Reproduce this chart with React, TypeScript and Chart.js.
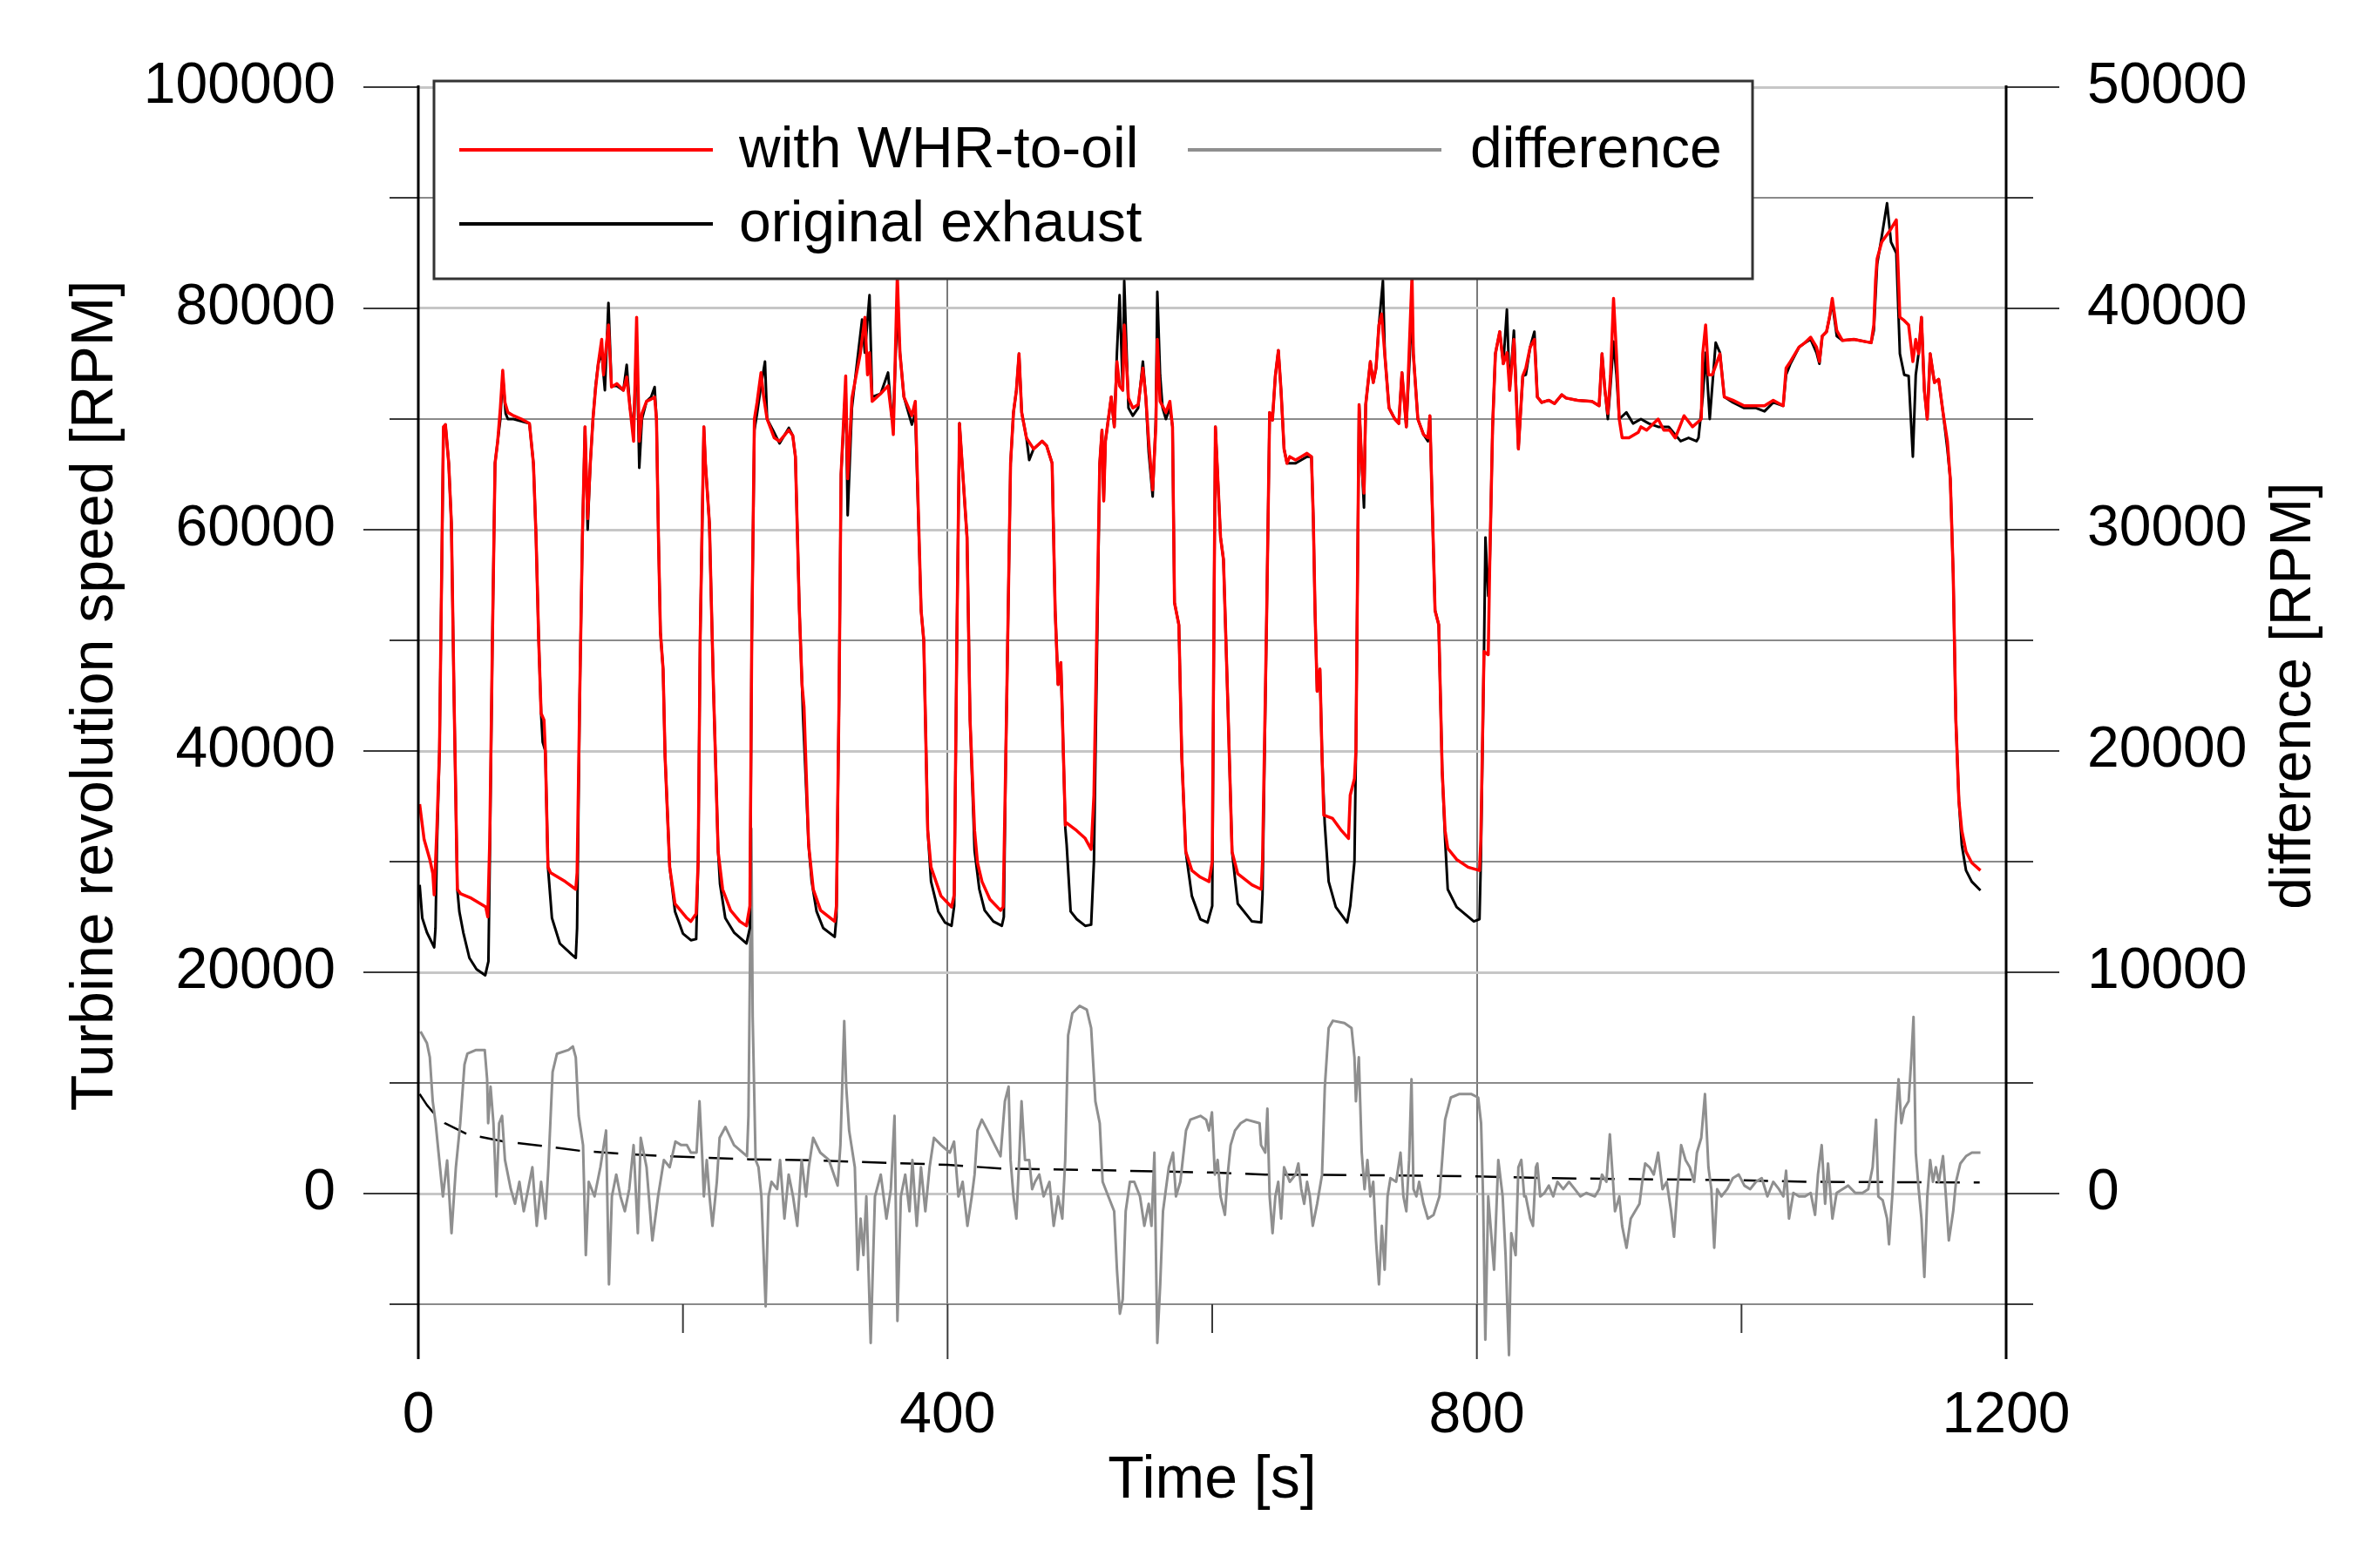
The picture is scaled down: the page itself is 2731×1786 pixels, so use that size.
import React, { useEffect, useRef } from 'react';
import { Chart, registerables } from 'chart.js';

Chart.register(...registerables);

// ---------- data ----------
const redTime = [1, 4.4, 8.7, 11, 12, 14, 16, 19, 20.5, 23, 25, 27, 29.5, 32, 40, 51, 52.5, 54, 56, 58, 60, 62, 63.8, 65.5, 67.7, 72, 78, 84, 87, 89, 91, 92.8, 95, 96, 98, 100, 111, 119, 120, 122, 124, 126, 128, 130, 132, 134, 136, 138.6, 140, 142, 143.7, 146, 150, 155, 157.5, 160, 162.7, 165, 167, 169, 172.5, 176, 178.6, 180, 181.5, 183, 185, 186.5, 190, 194, 203, 206, 210, 211.5, 213, 215.8, 217, 220, 223, 226.6, 230, 236, 243, 248, 250.6, 252, 254, 256, 259, 261, 263.6, 269, 273, 280, 283, 285, 288, 290, 291.5, 295, 298.5, 304, 314.7, 316, 318, 319.5, 323, 324.5, 327.7, 331, 334, 337.5, 339.5, 341, 343, 349.5, 355, 358, 359, 362, 364, 367, 373, 375.6, 380, 382, 385, 387.5, 395, 403, 405, 407, 409, 414.7, 417, 420.4, 422.6, 426, 432, 440, 442, 444, 447.6, 449.8, 452, 454, 456, 459.6, 465, 471.5, 474.8, 479, 481.3, 483.5, 485.6, 486.7, 489, 490, 497.6, 504, 508.5, 510.6, 515, 516.7, 518, 519.3, 523.7, 526, 528, 530, 532.4, 533.5, 536.7, 540, 544, 547.6, 549.8, 552, 555, 557.4, 558.5, 560.6, 565, 568, 570, 571.5, 574.8, 577, 580, 584.6, 591, 597.6, 600, 601.5, 602.4, 606.3, 608.5, 611.7, 615, 619.3, 630, 637, 638, 641.2, 643.4, 645.5, 647.7, 650, 652, 654.3, 656.5, 658.6, 663, 667.3, 671.6, 675, 676.4, 677.7, 679.3, 681.4, 683, 684.3, 691, 697.7, 703, 704.3, 707.5, 708.6, 711, 713, 714.7, 716, 719.5, 721.7, 723.8, 726, 728, 730.4, 733.6, 738, 741, 743.4, 746.7, 751, 752, 755.4, 759.7, 763, 764.5, 766.2, 768.4, 771.2, 773.8, 776, 778, 784.7, 793.4, 802, 803, 805.4, 808.6, 809.7, 811.9, 814, 817.3, 820, 822.8, 824.8, 828, 831.4, 834.7, 837, 840.3, 843.5, 845.7, 849, 854.4, 858.7, 864.2, 867.4, 876, 887, 892.4, 894.6, 896.8, 899, 901, 903.3, 905.5, 907.6, 909.8, 915, 922, 924, 928.3, 937, 941.3, 945.7, 950, 956.6, 963, 969.6, 970.7, 972.9, 975, 978, 983.7, 987, 993.5, 1002, 1011, 1017.4, 1024, 1031.5, 1033.7, 1037, 1043.5, 1048, 1052.3, 1056.7, 1058.9, 1061, 1064.3, 1066.5, 1068.6, 1072, 1076.3, 1085, 1093.6, 1098, 1100, 1101.3, 1102.5, 1106, 1112, 1117, 1118.7, 1119.7, 1123, 1126.3, 1129.5, 1131.7, 1133.9, 1136, 1138.2, 1140.4, 1142.6, 1145.8, 1149, 1152.3, 1155.6, 1157.8, 1160, 1162, 1164.3, 1166.5, 1169.7, 1174, 1180.6];
const redRpm = [35200, 32000, 30200, 28900, 27000, 32800, 40000, 69300, 69500, 66000, 60600, 45000, 27500, 27100, 26700, 25900, 25000, 32000, 50000, 66000, 68000, 71000, 74400, 71500, 70600, 70300, 70000, 69600, 66000, 59300, 50000, 43400, 42800, 40000, 29500, 29000, 28200, 27500, 29000, 45000, 59300, 69300, 61000, 66000, 70000, 72800, 75000, 77200, 74000, 76500, 78500, 72900, 73200, 72600, 73800, 71000, 68000, 79200, 68000, 70500, 71600, 71800, 72000, 70000, 59300, 50700, 47400, 39500, 29500, 26200, 24900, 24600, 25300, 30000, 50000, 69300, 66000, 60600, 46000, 30900, 27500, 25600, 24600, 24200, 26000, 50000, 70000, 71500, 74200, 72000, 70000, 68300, 68000, 69000, 68500, 66600, 52700, 46000, 44000, 31500, 27500, 25600, 24600, 26000, 45000, 65000, 73900, 64600, 71900, 74000, 75900, 79200, 74000, 76000, 71600, 72300, 73000, 70000, 68600, 83000, 76000, 72000, 70300, 71600, 52700, 50000, 32800, 29500, 26900, 25900, 27000, 50000, 69600, 59300, 42800, 32800, 29900, 28200, 26600, 25600, 25900, 39500, 66000, 70600, 72600, 75900, 70600, 68300, 67300, 68000, 67600, 66000, 52700, 46000, 48000, 43400, 33300, 33500, 32800, 32100, 31100, 36000, 66000, 69000, 62600, 68000, 72000, 69300, 75200, 73000, 72600, 78500, 71900, 71000, 71300, 74600, 72000, 68000, 63600, 69300, 77200, 71600, 70600, 71600, 69300, 53400, 51400, 39500, 30900, 29200, 28600, 28200, 30000, 55000, 69300, 59300, 57300, 44700, 30900, 28900, 27900, 27500, 30000, 52700, 70600, 69900, 73900, 76200, 72600, 67300, 66000, 66600, 66300, 66600, 66900, 66600, 61000, 52700, 45400, 47400, 39500, 34200, 33900, 32800, 32100, 36000, 37500, 40000, 71300, 66000, 63300, 71300, 75200, 73300, 74600, 78500, 79500, 75900, 71000, 70000, 69600, 74200, 69300, 83000, 75900, 70000, 68600, 68300, 70300, 62600, 52700, 51400, 38200, 32800, 31200, 30200, 29500, 29200, 32000, 49000, 48700, 56700, 69300, 75900, 77900, 75000, 76000, 72600, 77200, 67300, 73900, 74600, 76500, 77200, 72000, 71500, 71700, 71400, 72200, 71900, 71700, 71600, 71200, 75900, 72600, 70500, 73900, 80900, 75900, 70000, 68300, 68300, 68800, 69300, 69000, 70000, 69000, 69000, 68300, 70300, 69300, 70000, 75900, 78500, 74000, 74000, 75900, 72000, 71700, 71200, 71200, 71200, 71700, 71200, 74600, 75200, 76500, 76900, 77400, 76500, 75200, 77500, 77900, 79200, 80900, 78000, 77100, 77200, 77000, 76900, 78500, 82500, 84500, 86000, 87000, 88000, 82500, 79200, 78900, 78500, 75200, 77200, 75900, 79200, 72600, 70000, 75900, 73300, 73600, 70600, 68000, 64600, 56000, 42800, 35500, 32800, 30900, 29900, 29200];

const blackTime = [1, 3, 6.5, 12, 13, 14, 16, 19, 20.5, 23, 25, 27, 29.5, 31, 34, 38.6, 44, 50.6, 53, 54, 56, 58, 60, 62, 63.8, 66, 67.7, 72, 78, 84, 87, 89, 91, 92.8, 94, 96, 98, 101, 107, 116, 119, 120, 122, 124, 126, 128, 130, 132, 134, 136, 138.6, 141, 143.7, 146, 150, 155, 157.5, 160, 162.7, 165, 167, 169, 172.5, 176, 178.6, 180, 181.5, 183, 185, 186.5, 190, 194, 200, 206, 210, 211.5, 213, 215.8, 217, 220, 223, 226.6, 228, 232, 238.6, 248, 250.6, 252, 254, 256, 259, 262, 263.6, 268, 273, 280, 283, 285, 288, 290, 290.8, 295, 297.3, 301, 306, 314.7, 316, 318, 319.5, 323, 324.5, 327.7, 331, 335.4, 337.5, 341, 343, 349.5, 355, 358, 359, 362, 364, 367, 373, 375.6, 380, 382, 385, 387.5, 393, 398, 403, 405, 407, 409, 414.7, 417, 420.4, 424, 428, 434.6, 441, 442.5, 444, 447.6, 449.8, 452, 454, 456, 459.6, 461.7, 465, 471.5, 474.8, 479, 481.3, 483.5, 485.6, 486.7, 489, 490, 493, 497.6, 504, 508.5, 510.6, 515, 516.7, 518, 519.3, 523.7, 526, 528, 530, 532.4, 533.5, 536.7, 540, 544, 547.6, 549.8, 552, 555, 557.4, 558.5, 560.6, 562.5, 565, 568, 570, 571.5, 574.8, 577, 580, 584.6, 591, 596.5, 600, 601.5, 602.4, 606.3, 608.5, 611.7, 615, 619.3, 630, 637, 638, 641.2, 643.4, 645.5, 647.7, 650, 652, 654.3, 656.5, 658.6, 663, 667.3, 671.6, 675, 676.4, 677.7, 679.3, 681.4, 683, 685, 688, 693.4, 702, 704.3, 707.5, 708.6, 711, 713, 714.7, 716, 719.5, 721.7, 723.8, 726, 729, 730.4, 733.6, 738, 741, 743.4, 746.7, 751, 752, 755.4, 759.7, 763, 764.5, 766.2, 768.4, 771.2, 773.8, 776, 778, 784.7, 797.7, 802, 803, 805.4, 806.5, 808.6, 809.7, 811.9, 814, 817.3, 820, 822.7, 824.8, 828, 831.4, 834.7, 837, 840.3, 843.5, 845.7, 849, 854.4, 858.7, 864.2, 867.4, 876, 887, 892.4, 894.6, 896.8, 899, 901, 903.3, 905.5, 907.6, 913, 918, 924, 930, 937, 945, 954, 960, 966, 967.5, 970.7, 973, 975, 976, 980.5, 983.7, 987, 993.5, 1002, 1011, 1017.4, 1024, 1031.5, 1033.7, 1037, 1043.5, 1048, 1052.3, 1056.7, 1058.9, 1061, 1064.3, 1066.5, 1068.6, 1072, 1076.3, 1085, 1093.6, 1098, 1100, 1102.5, 1106, 1110, 1113, 1117, 1119.7, 1123, 1126.3, 1129.5, 1131.7, 1133.9, 1136, 1138.2, 1140.4, 1142.6, 1145.8, 1149, 1152.3, 1155.6, 1157.8, 1160, 1162, 1164.3, 1166.5, 1169.7, 1174, 1180.6];
const blackRpm = [27900, 24900, 23600, 22250, 24000, 31000, 40000, 69000, 69500, 66000, 60600, 45000, 27500, 25500, 23600, 21300, 20270, 19730, 21000, 30000, 50000, 66000, 68000, 70000, 74000, 70500, 70000, 70000, 69800, 69600, 66000, 59300, 50000, 43400, 40800, 40000, 29500, 24900, 22600, 21600, 21300, 24000, 45000, 59300, 69300, 60000, 66000, 70000, 73000, 75000, 76000, 72600, 80500, 73000, 73000, 72600, 74900, 71000, 69000, 77000, 65600, 70000, 71600, 72000, 72900, 70000, 59300, 50700, 47400, 39500, 29500, 25500, 23500, 22900, 23000, 30000, 50000, 69300, 66000, 60600, 46000, 30900, 28000, 24900, 23600, 22600, 24000, 50000, 69000, 70500, 73000, 75200, 70000, 69000, 67800, 69200, 68500, 66600, 52700, 46000, 43000, 31500, 28200, 25500, 24000, 23200, 25000, 45000, 65000, 73000, 61300, 71000, 74500, 79000, 76000, 81200, 72000, 72300, 74200, 70000, 70000, 80000, 76000, 72000, 69500, 70500, 52700, 50000, 32800, 28200, 25500, 24500, 24200, 26000, 50000, 69600, 59300, 42800, 31000, 27500, 25600, 24600, 24200, 25000, 39500, 66000, 70600, 72600, 75900, 70600, 68300, 66300, 67300, 68000, 67600, 66000, 52700, 46000, 48000, 43400, 33000, 31500, 25500, 24800, 24200, 24300, 30000, 66000, 69000, 62600, 68000, 72000, 69300, 76000, 81200, 72600, 82500, 71000, 70300, 71000, 75200, 72000, 67000, 63000, 70000, 81500, 74000, 71000, 70000, 71000, 69300, 53400, 51400, 39500, 30900, 26900, 24800, 24500, 26000, 55000, 69300, 59300, 57300, 44700, 30900, 26200, 24600, 24500, 27000, 52700, 70600, 69900, 73900, 76200, 72600, 67300, 66000, 66000, 66000, 66300, 66600, 66600, 61000, 52700, 45400, 47400, 39500, 33500, 28200, 25900, 24500, 26000, 30000, 40000, 71300, 66000, 62000, 71300, 75200, 73300, 74600, 78500, 82500, 75900, 71000, 70000, 69600, 74200, 69300, 80000, 75900, 70000, 68600, 68000, 70300, 62600, 52700, 51400, 38200, 32000, 27500, 25900, 24600, 24800, 30000, 49000, 59300, 54000, 56700, 69300, 75900, 77900, 75000, 79900, 72600, 78000, 67300, 73900, 74000, 76500, 77900, 72000, 71500, 71700, 71400, 72200, 71900, 71700, 71600, 71200, 75900, 72600, 70000, 73000, 77000, 74000, 70000, 70600, 69600, 70000, 69600, 69300, 69300, 68000, 68300, 68000, 68300, 72000, 76000, 72000, 70000, 76900, 76000, 72000, 71500, 71000, 71000, 70700, 71500, 71200, 74000, 75000, 76500, 76900, 77200, 76000, 75000, 77500, 77900, 79200, 80500, 77500, 77100, 77200, 77000, 76900, 78000, 84000, 86500, 89500, 86000, 85000, 75900, 74000, 73900, 66600, 74000, 76000, 79200, 72600, 70000, 75900, 73300, 73600, 70600, 67300, 64600, 56000, 42800, 35500, 31500, 29200, 28200, 27400];

const diffTime = [1.7, 6.5, 8.7, 10.9, 13.1, 15.3, 18.6, 21.8, 25.1, 28.4, 31.7, 34.9, 37.1, 43.7, 50.2, 52, 52.8, 54.6, 56.8, 59, 61.1, 63.3, 65.5, 69.9, 73.1, 76.4, 79.7, 83, 86.2, 89.5, 92.8, 96.1, 98.3, 101.5, 104.8, 113.5, 116.8, 119, 121.2, 124.5, 126.6, 128.8, 133.2, 137.6, 141.9, 144.1, 146.3, 149.6, 152.8, 156.1, 159.4, 162.7, 165.9, 168.1, 172.5, 176.9, 181.2, 185.6, 190, 194.3, 198.7, 203, 206, 210.3, 212.5, 214.7, 215.8, 218, 220.1, 222.3, 225.6, 227.7, 232.1, 238.6, 248.4, 249.5, 251.7, 252.7, 254.9, 257.1, 259.3, 262.5, 264.7, 266.9, 271.2, 273.4, 276.7, 279.9, 283.2, 286.4, 289.7, 293, 295.1, 298.4, 303.8, 310.3, 316.9, 319, 321.9, 323.4, 325.6, 329.9, 332.1, 334.3, 336.4, 338.6, 341.9, 345.1, 349.5, 353.8, 357.1, 359.9, 362.1, 364.7, 368, 371.2, 373.4, 376.7, 379.9, 383.2, 386.4, 389.7, 395.1, 401.7, 404.9, 408.2, 411.4, 415, 418.3, 420.4, 422.6, 425.9, 430.2, 435.7, 440, 443.3, 446.1, 447.6, 449.8, 452, 454.1, 455.9, 458.5, 461.7, 463.9, 466.1, 469.3, 472.6, 477, 480.2, 483.5, 486.7, 488.9, 491.1, 494.3, 499.8, 505.2, 508.5, 511.7, 515, 517.2, 521.5, 525.9, 528, 530.2, 532.4, 534.6, 537.8, 541.1, 545.4, 548.7, 552, 554.1, 556.3, 558.5, 560.7, 562.8, 565, 567.2, 570.4, 572.6, 575.9, 580.2, 583.5, 591.1, 595.4, 597.6, 599.8, 602, 604.1, 606.3, 609.6, 611.7, 613.9, 617.2, 621.5, 626, 635.8, 636.9, 640.1, 641.7, 643.4, 645.6, 647.7, 649.9, 652.1, 654.3, 658.6, 663, 665.1, 667.3, 669.5, 671.7, 673.8, 676, 679.3, 683, 685.1, 688, 691.2, 699.9, 705.3, 707.5, 708.6, 710.8, 713, 715.1, 717.3, 719.5, 721.7, 723.8, 726, 728.2, 730.3, 732.5, 734.7, 739, 742.3, 744.5, 746.7, 748.8, 750.6, 752.1, 754.3, 756.4, 759.7, 763, 767.3, 771.7, 773.8, 776, 780.3, 786.9, 795.6, 801, 803.2, 804.7, 806.4, 808.6, 810.8, 813, 816.2, 819.5, 821.7, 824.3, 826, 829.3, 831.4, 833.6, 835.8, 837, 840.3, 842.4, 844.6, 845.7, 847.9, 851.1, 854.4, 857.7, 860.9, 865.3, 869.6, 874, 878.3, 882.7, 889.2, 892.4, 894.6, 897.9, 900.5, 902.2, 904.4, 907.7, 909.8, 913.1, 916.3, 919.6, 922.9, 925, 927.2, 930.5, 933.7, 937, 940.3, 943.5, 946.8, 949, 951.1, 954.4, 957.7, 960.9, 964.2, 966.3, 969.6, 972.4, 975, 977.2, 979.4, 981.6, 984.8, 989.2, 993.5, 997.9, 1002.2, 1006.6, 1010.9, 1015.3, 1019.6, 1024, 1028.3, 1031.6, 1033.7, 1035.9, 1039.2, 1043.5, 1048, 1052.3, 1055.6, 1057.8, 1060.6, 1063.2, 1065.4, 1068.7, 1071.9, 1076.3, 1080.6, 1086, 1091.5, 1095.8, 1099.1, 1101.7, 1103.4, 1106.7, 1110, 1111.5, 1114.3, 1116.5, 1118.7, 1120.8, 1123, 1126.3, 1128.4, 1130, 1131.7, 1133.9, 1136, 1138.2, 1140.4, 1142.6, 1144.7, 1146.9, 1149.1, 1152.3, 1154.5, 1156.7, 1160, 1162.1, 1165.4, 1169.7, 1174.1, 1180.6];
const diffRpm = [7320, 6800, 6160, 4170, 3180, 1850, -130, 1500, -1790, 1190, 3180, 5830, 6320, 6490, 6490, 5170, 3180, 4830, 3180, -130, 3180, 3510, 1520, 200, -460, 530, -800, 200, 1190, -1460, 530, -1130, 1190, 5500, 6320, 6490, 6650, 6160, 3510, 2190, -2780, 530, -130, 1190, 2850, -4100, -130, 860, -130, -800, 200, 2190, -1790, 2520, 1190, -2120, -130, 1520, 1190, 2350, 2190, 2190, 1850, 1850, 4170, 1520, -130, 1520, -130, -1460, 530, 2520, 3010, 2190, 1690, 3510, 16500, 8000, 1520, 1190, -130, -5100, -130, 530, 200, 1520, -1130, 860, -130, -1460, 1520, -130, 1190, 2520, 1850, 1520, 360, 2190, 7800, 4830, 2850, 1190, -3440, -1130, -2780, -130, -6750, -130, 860, -1130, 200, 3510, -5760, -130, 860, -800, 1520, -1460, 1190, -800, 1190, 2520, 2190, 1850, 2350, -130, 530, -1460, -130, 860, 2850, 3340, 2850, 2190, 1690, 4170, 4830, 1520, -130, -1130, 1520, 4170, 1520, 1520, 200, 530, 860, -130, 530, -1460, -130, -1130, 1520, 7150, 8150, 8480, 8310, 7480, 4170, 3180, 530, -130, -800, -3440, -5430, -4770, -800, 530, 530, -130, -1460, -460, -1460, 1850, -6750, -4100, -800, 200, 1190, 1850, -130, 530, 2850, 3340, 3510, 3340, 2850, 3670, 860, 1520, -130, -960, 860, 2190, 2850, 3180, 3340, 3180, 2190, 1850, 3840, -130, -1790, -130, 530, -1130, 1190, 530, 860, 1360, 200, -460, 530, -130, -1460, -460, 860, 4830, 7480, 7810, 7710, 7480, 6160, 4170, 6160, 1850, 200, 1520, -130, 530, -2120, -4100, -1460, -3440, -130, 700, 530, 1850, -130, -800, 1520, 5170, 200, -130, 530, -460, -1130, -960, -130, 1520, 3340, 4340, 4500, 4500, 4340, 3180, -130, -6600, -130, -1790, -3440, 1520, -130, -2780, -7300, -1790, -2780, 1190, 1520, -130, -130, -1130, -1460, 1190, 1360, -130, 30, 360, -130, 530, 200, 530, 200, -130, 30, -130, 200, 860, 530, 2680, 1190, -800, -130, -1460, -2450, -1130, -800, -460, 530, 1360, 1190, 860, 1850, 200, 530, -800, -1950, -130, 2190, 1520, 1190, 530, 1850, 2520, 4500, 1190, 200, -2450, 200, -130, 200, 700, 860, 360, 200, 530, 700, -130, 530, 200, -130, 1030, -1130, 30, -130, -130, 30, -960, 860, 2190, -460, 1360, -1130, 30, 200, 360, 30, 30, 200, 1190, 3340, -130, -300, -1130, -2290, 200, 3180, 5170, 3180, 3840, 4170, 6160, 7980, 1850, 200, -1130, -3770, -130, 1520, 530, 1190, 530, 1690, -130, -2120, -800, 530, 1360, 1690, 1850, 1850];

const trendTime = [1, 6.5, 11, 20, 37, 65, 98, 124, 157, 186, 250, 300, 400, 440, 520, 600, 640, 720, 800, 850, 1000, 1050, 1180];
const trendRpm = [4500, 4000, 3680, 3180, 2680, 2350, 2120, 1920, 1790, 1690, 1550, 1500, 1300, 1130, 1050, 950, 860, 830, 780, 700, 600, 530, 500];

const xTickLabels = ['0', '400', '800', '1200'];
const yTickLabels = ['0', '20000', '40000', '60000', '80000', '100000'];
const y1TickLabels = ['0', '10000', '20000', '30000', '40000', '50000'];

const seriesLabels = ['with WHR-to-oil', 'original exhaust', 'difference'];
const axisTitles = { x: 'Time [s]', y: 'Turbine revolution speed [RPM]', y1: 'difference [RPM]' };

// ---------- styling ----------
const W = 2731;
const H = 1786;
const FONT = '"Liberation Sans", Arial, Helvetica, sans-serif';
const FS = 66;
const RED = '#ff0000';
const BLACK = '#000000';
const GRAY = '#8f8f8f';

const zip = (t: number[], v: number[]) => t.map((x, i) => ({ x, y: v[i] }));

const decorPlugin = {
  id: 'decor',
  afterDatasetsDraw(chart: any) {
    const { ctx, chartArea, scales } = chart;
    const { left, right, top, bottom } = chartArea;
    ctx.save();

    // legend box
    const lx = left + 18;
    const ly = top - 7;
    const lw = 1513;
    const lh = 227;
    ctx.fillStyle = '#ffffff';
    ctx.fillRect(lx, ly, lw, lh);
    ctx.strokeStyle = '#333333';
    ctx.lineWidth = 3;
    ctx.strokeRect(lx, ly, lw, lh);
    const ds = chart.data.datasets;
    const entries = [
      { i: 0, lineX: lx + 29, textX: lx + 350, y: ly + 79 },
      { i: 2, lineX: lx + 865, textX: lx + 1189, y: ly + 79 },
      { i: 1, lineX: lx + 29, textX: lx + 350, y: ly + 164 },
    ];
    ctx.font = `${FS}px ${FONT}`;
    ctx.textBaseline = 'middle';
    ctx.textAlign = 'left';
    for (const e of entries) {
      ctx.strokeStyle = ds[e.i].borderColor;
      ctx.lineWidth = 4;
      ctx.beginPath();
      ctx.moveTo(e.lineX, e.y);
      ctx.lineTo(e.lineX + 291, e.y);
      ctx.stroke();
      ctx.fillStyle = '#000';
      ctx.fillText(ds[e.i].label, e.textX, e.y + 2);
    }

    // tick marks
    ctx.strokeStyle = '#3a3a3a';
    ctx.lineWidth = 2;
    const yS = scales.y;
    yS.ticks.forEach((t: any) => {
      const p = yS.getPixelForValue(t.value);
      const len = t.value % 20000 === 0 ? 63 : 33;
      ctx.beginPath();
      ctx.moveTo(left - len, p);
      ctx.lineTo(left, p);
      ctx.stroke();
    });
    const y1S = scales.y1;
    y1S.ticks.forEach((t: any) => {
      const p = y1S.getPixelForValue(t.value);
      const len = t.value % 10000 === 0 ? 61 : 31;
      ctx.beginPath();
      ctx.moveTo(right, p);
      ctx.lineTo(right + len, p);
      ctx.stroke();
    });
    const xS = scales.x;
    xS.ticks.forEach((t: any) => {
      const p = xS.getPixelForValue(t.value);
      const len = t.value % 400 === 0 ? 63 : 33;
      ctx.beginPath();
      ctx.moveTo(p, bottom);
      ctx.lineTo(p, bottom + len);
      ctx.stroke();
    });

    // axis lines
    ctx.strokeStyle = '#000';
    ctx.lineWidth = 3;
    ctx.beginPath();
    ctx.moveTo(left, top - 2);
    ctx.lineTo(left, bottom + 63);
    ctx.moveTo(right, top - 2);
    ctx.lineTo(right, bottom + 63);
    ctx.stroke();

    // right axis title (reads bottom to top)
    ctx.save();
    ctx.translate(right + 331, (top + bottom) / 2);
    ctx.rotate(-Math.PI / 2);
    ctx.textAlign = 'center';
    ctx.textBaseline = 'middle';
    ctx.fillStyle = '#000';
    ctx.font = `${FS}px ${FONT}`;
    ctx.fillText(axisTitles.y1, 0, 0);
    ctx.restore();

    ctx.restore();
  },
};

const fixVertical = (width: number) => (s: any) => {
  s.width = width;
  s.paddingTop = 0;
  s.paddingBottom = 0;
};

export default function App() {
  const ref = useRef<HTMLCanvasElement | null>(null);

  useEffect(() => {
    document.body.style.margin = '0';
    const canvas = ref.current;
    if (!canvas) return;
    const tickFont = { family: FONT, size: FS };
    const chart = new Chart(canvas, {
      type: 'line',
      data: {
        datasets: [
          { label: seriesLabels[0], data: zip(redTime, redRpm), borderColor: RED, borderWidth: 3.5, yAxisID: 'y' },
          { label: seriesLabels[1], data: zip(blackTime, blackRpm), borderColor: BLACK, borderWidth: 3, yAxisID: 'y' },
          { label: seriesLabels[2], data: zip(diffTime, diffRpm), borderColor: GRAY, borderWidth: 3, yAxisID: 'y1', clip: false },
          { label: 'trend', data: zip(trendTime, trendRpm), borderColor: BLACK, borderWidth: 2.5, borderDash: [28, 16], yAxisID: 'y1' },
        ] as any,
      },
      options: {
        animation: false,
        responsive: false,
        devicePixelRatio: 1,
        elements: { point: { radius: 0 }, line: { tension: 0, borderJoinStyle: 'round' as any } },
        layout: { padding: { top: 100, left: 0, right: 0, bottom: 0 } },
        plugins: { legend: { display: false }, tooltip: { enabled: false } },
        scales: {
          x: {
            type: 'linear',
            min: 0,
            max: 1200,
            border: { display: false },
            grid: {
              drawTicks: false,
              color: (c: any) => (c.tick && (c.tick.value === 400 || c.tick.value === 800) ? '#7a7a7a' : 'rgba(0,0,0,0)'),
              lineWidth: 2,
            },
            ticks: {
              stepSize: 200,
              autoSkip: false,
              maxRotation: 0,
              padding: 89,
              color: '#000',
              font: tickFont,
              callback: (v: any) => (Number(v) % 400 === 0 ? xTickLabels[Number(v) / 400] : ''),
            },
            title: { display: true, text: axisTitles.x, color: '#000', font: { family: FONT, size: 68 }, padding: { top: 0, bottom: 45 } },
            afterFit: (s: any) => { s.height = 289; s.paddingLeft = 0; s.paddingRight = 0; },
          },
          y: {
            type: 'linear',
            position: 'left',
            min: -10000,
            max: 100000,
            border: { display: false },
            grid: {
              drawTicks: false,
              color: (c: any) => (c.tick && c.tick.value % 20000 === 0 ? '#c6c6c6' : '#8a8a8a'),
              lineWidth: (c: any) => (c.tick && c.tick.value % 20000 === 0 ? 3 : 2),
            },
            ticks: {
              stepSize: 10000,
              autoSkip: false,
              padding: 95,
              color: '#000',
              font: tickFont,
              callback: (v: any) => (Number(v) % 20000 === 0 && Number(v) >= 0 ? yTickLabels[Number(v) / 20000] : ''),
            },
            title: { display: true, text: axisTitles.y, color: '#000', font: { family: FONT, size: 68 }, padding: { top: 69, bottom: 0 } },
            afterFit: fixVertical(480),
          },
          y1: {
            type: 'linear',
            position: 'right',
            min: -5000,
            max: 50000,
            border: { display: false },
            grid: { display: false, drawTicks: false, drawOnChartArea: false },
            ticks: {
              stepSize: 5000,
              autoSkip: false,
              padding: 93,
              color: '#000',
              font: tickFont,
              callback: (v: any) => (Number(v) % 10000 === 0 && Number(v) >= 0 ? y1TickLabels[Number(v) / 10000] : ''),
            },
            afterFit: fixVertical(429),
          },
        },
      } as any,
      plugins: [decorPlugin],
    });
    return () => chart.destroy();
  }, []);

  return (
    <div style={{ width: W, height: H, background: '#fff' }}>
      <canvas ref={ref} width={W} height={H} style={{ width: W, height: H, display: 'block' }} />
    </div>
  );
}
